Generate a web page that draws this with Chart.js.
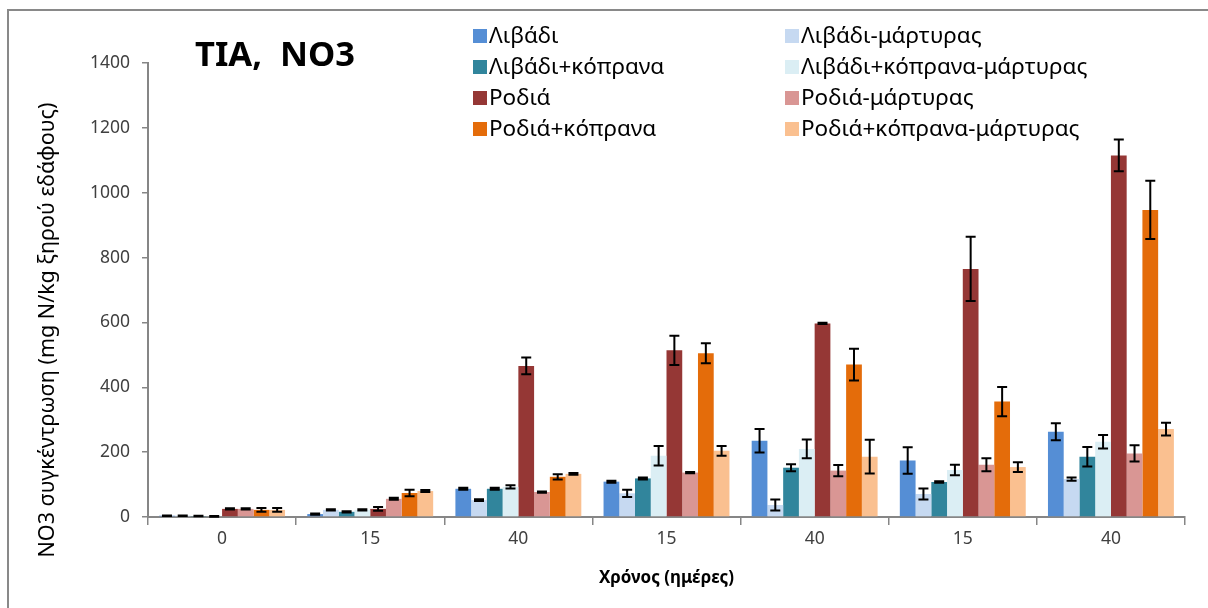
<!DOCTYPE html>
<html>
<head>
<meta charset="utf-8">
<script src="https://cdn.jsdelivr.net/npm/chart.js@4"></script>
<style>
  html, body { margin: 0; padding: 0; background: #fff; }
  #box { width: 1208px; height: 608px; position: relative; }
</style>
</head>
<body>
<div id="box"><canvas id="myChart"></canvas></div>
<script>
// categories (days)
const dias = ["0", "15", "40", "15", "40", "15", "40"];

const nombres = [
  "Λιβάδι", "Λιβάδι-μάρτυρας", "Λιβάδι+κόπρανα", "Λιβάδι+κόπρανα-μάρτυρας",
  "Ροδιά", "Ροδιά-μάρτυρας", "Ροδιά+κόπρανα", "Ροδιά+κόπρανα-μάρτυρας"
];
const colores = ["#558ed5", "#c6d9f1", "#31859c", "#dbeef4", "#953735", "#d99694", "#e46c0a", "#fac090"];

// values
const livadi = [4, 9, 87, 109, 235, 174, 263];
const livadiM = [4, 22, 52, 73, 37, 71, 117];
const livadiK = [3, 16, 87, 119, 152, 108, 186];
const livadiKM = [2, 22, 93, 189, 210, 145, 232];
const rodia = [25, 25, 466, 514, 597, 765, 1115];
const rodiaM = [25, 56, 77, 137, 143, 161, 196];
const rodiaK = [22, 74, 124, 505, 470, 356, 947];
const rodiaKM = [22, 80, 133, 204, 186, 154, 271];

// error bars (+/-)
const errLivadi = [1, 2, 3, 3, 36, 41, 26];
const errLivadiM = [1, 2, 3, 11, 17, 17, 5];
const errLivadiK = [1, 2, 3, 3, 11, 2, 30];
const errLivadiKM = [1, 2, 5, 30, 29, 16, 21];
const errRodia = [2, 6, 26, 45, 2, 99, 49];
const errRodiaM = [2, 3, 2, 2, 17, 20, 25];
const errRodiaK = [6, 10, 8, 31, 49, 45, 90];
const errRodiaKM = [6, 3, 3, 15, 52, 15, 20];

const valores = [livadi, livadiM, livadiK, livadiKM, rodia, rodiaM, rodiaK, rodiaKM];
const errores = [errLivadi, errLivadiM, errLivadiK, errLivadiKM, errRodia, errRodiaM, errRodiaK, errRodiaKM];

const FUENTE = "'Noto Sans', sans-serif";

const datasets = nombres.map((n, i) => ({
  label: n,
  data: valores[i],
  errores: errores[i],
  backgroundColor: colores[i],
  borderWidth: 0,
  categoryPercentage: 0.85,
  barPercentage: 1.0
}));

// marco, titulo, leyenda y barras de error
const extras = {
  id: "extras",
  beforeDraw(chart) {
    const ctx = chart.ctx;
    ctx.save();
    ctx.strokeStyle = "#898989";
    ctx.lineWidth = 2;
    ctx.beginPath();
    ctx.moveTo(8, 620);
    ctx.lineTo(8, 10);
    ctx.lineTo(1220, 10);
    ctx.stroke();
    ctx.restore();
  },
  afterDatasetsDraw(chart) {
    const ctx = chart.ctx;
    const y = chart.scales.y;
    ctx.save();
    ctx.strokeStyle = "#000";
    ctx.lineWidth = 2;
    chart.data.datasets.forEach((ds, i) => {
      const meta = chart.getDatasetMeta(i);
      meta.data.forEach((bar, j) => {
        const v = ds.data[j], e = ds.errores[j];
        const top = y.getPixelForValue(v + e);
        const bot = y.getPixelForValue(Math.max(v - e, 0));
        ctx.beginPath();
        ctx.moveTo(bar.x, top); ctx.lineTo(bar.x, bot);
        ctx.moveTo(bar.x - 5, top); ctx.lineTo(bar.x + 5, top);
        ctx.moveTo(bar.x - 5, bot); ctx.lineTo(bar.x + 5, bot);
        ctx.stroke();
      });
    });
    ctx.restore();
  },
  afterDraw(chart) {
    const ctx = chart.ctx;
    ctx.save();
    ctx.fillStyle = "#000";
    ctx.font = "bold 34.5px " + FUENTE;
    ctx.textBaseline = "middle";
    ctx.fillText("TIA,  NO3", 195, 56);

    // titulo del eje y
    ctx.save();
    ctx.translate(48, 330);
    ctx.rotate(-Math.PI / 2);
    ctx.textAlign = "center";
    ctx.font = "21.5px " + FUENTE;
    ctx.fillText("NO3 συγκέντρωση (mg N/kg ξηρού εδάφους)", 0, 0);
    ctx.restore();

    ctx.font = "22.5px " + FUENTE;
    chart.data.datasets.forEach((ds, i) => {
      const col = i % 2, fila = Math.floor(i / 2);
      const x = col === 0 ? 473 : 785;
      const yy = 36 + fila * 31;
      ctx.fillStyle = ds.backgroundColor;
      ctx.fillRect(x, yy - 7, 14, 14);
      ctx.fillStyle = "#000";
      ctx.fillText(ds.label, x + 16, yy + 1);
    });
    ctx.restore();
  }
};

const config = {
  type: "bar",
  data: { labels: dias, datasets },
  options: {
    responsive: true,
    maintainAspectRatio: false,
    animation: false,
    devicePixelRatio: 1,
    layout: { padding: { left: 0, top: 63, right: 23, bottom: 0 } },
    plugins: {
      legend: { display: false },
      tooltip: { enabled: false }
    },
    scales: {
      x: {
        afterFit: (s) => { s.height = 91; },
        grid: {
          offset: true,
          drawOnChartArea: false,
          color: "#868686",
          tickLength: 8,
          lineWidth: 1.5
        },
        border: { color: "#868686", width: 2 },
        ticks: { color: "#404040", font: { family: FUENTE, size: 17.5 }, padding: 4 },
        title: {
          display: true,
          text: "Χρόνος (ημέρες)",
          color: "#000",
          font: { family: FUENTE, size: 17, weight: "bold" },
          padding: { top: 0, bottom: 20 }
        }
      },
      y: {
        min: 0,
        max: 1400,
        afterFit: (s) => { s.width = 148; },
        ticks: {
          stepSize: 200,
          color: "#404040",
          font: { family: FUENTE, size: 17.5 },
          padding: 12,
          callback: (v) => String(v)
        },
        grid: {
          drawOnChartArea: false,
          color: "#868686",
          tickLength: 6,
          lineWidth: 1.5
        },
        border: { color: "#868686", width: 2 }
      }
    }
  },
  plugins: [extras]
};

const myChart = new Chart(document.querySelector("#myChart"), config);
</script>
</body>
</html>
